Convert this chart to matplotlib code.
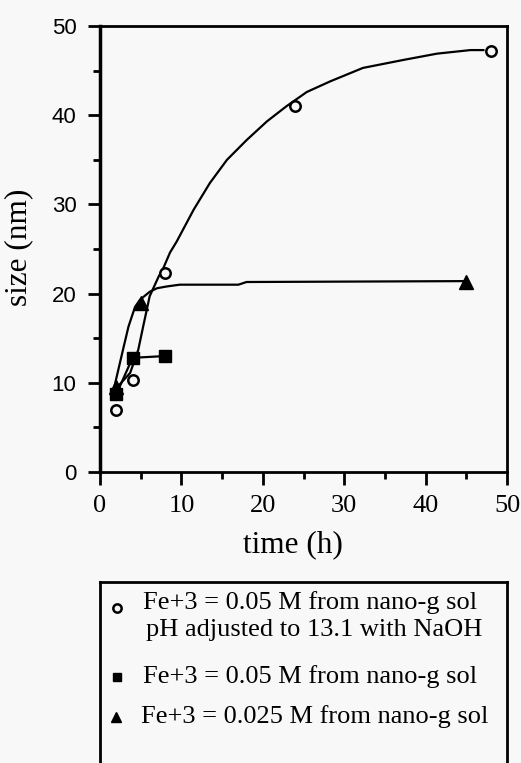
import numpy as np
import matplotlib.pyplot as plt
from matplotlib.ticker import MultipleLocator

# measured points
t_ph = [2, 4, 8, 24, 48]
size_ph = [7.0, 10.3, 22.3, 41.0, 47.2]

t_05 = [2, 4, 8]
size_05 = [8.7, 12.8, 13.0]

t_025 = [2, 5, 45]
size_025 = [9.5, 18.9, 21.3]

# hand-drawn guide curves
curve_ph_t = [1.8, 3.7, 4.7, 5.3, 6.1, 7.2, 7.8, 8.6, 9.4, 11.5, 13.5, 15.6, 18.0, 20.5,
              22.9, 25.4, 28.3, 32.3, 37.3, 41.4, 45.5, 47.1]
curve_ph_s = [9.2, 11.1, 13.7, 16.3, 19.7, 21.9, 22.9, 24.6, 25.8, 29.4, 32.4, 35.0, 37.2,
              39.3, 41.0, 42.6, 43.8, 45.3, 46.2, 46.9, 47.3, 47.3]
curve_025_t = [1.8, 2.9, 3.5, 4.3, 4.9, 6.1, 7.0, 8.2, 9.8, 17.0, 18.0, 45.0]
curve_025_s = [9.7, 14.0, 16.3, 18.5, 19.3, 20.2, 20.6, 20.8, 21.0, 21.0, 21.3, 21.4]

legend_labels = ["Fe+3 = 0.05 M from nano-g sol\npH adjusted to 13.1 with NaOH",
                 "Fe+3 = 0.05 M from nano-g sol",
                 "Fe+3 = 0.025 M from nano-g sol"]

serif = "Liberation Serif"
bg = "#f8f8f8"

W, H = 521, 763
fig = plt.figure(figsize=(W / 100, H / 100), dpi=100, facecolor=bg)
ax = fig.add_axes([100 / W, 1 - 472 / H, 407 / W, 446 / H], facecolor=bg)

ax.plot(curve_ph_t, curve_ph_s, color="black", lw=1.6)
ax.plot(curve_025_t, curve_025_s, color="black", lw=1.6)
ax.plot(t_05, size_05, color="black", lw=1.6, marker="s", ms=8.5)
ax.plot(t_025, size_025, linestyle="none", color="black", marker="^", ms=9.5)
ax.plot(t_ph, size_ph, linestyle="none", marker="o", ms=7.5, mfc=bg, mec="black", mew=1.8)

ax.set_xlim(0, 50)
ax.set_ylim(0, 50)
ax.xaxis.set_major_locator(MultipleLocator(10))
ax.xaxis.set_minor_locator(MultipleLocator(5))
ax.yaxis.set_major_locator(MultipleLocator(10))
ax.yaxis.set_minor_locator(MultipleLocator(5))
ax.tick_params(which="major", direction="out", length=9, width=2)
ax.tick_params(which="minor", direction="out", length=5, width=2)
ax.tick_params(axis="x", pad=7.5)
ax.tick_params(axis="y", pad=8)
for lab in ax.get_xticklabels():
    lab.set_fontfamily(serif)
    lab.set_fontsize(19)
for lab in ax.get_yticklabels():
    lab.set_fontfamily("Liberation Sans")
    lab.set_fontsize(16)
for s in ax.spines.values():
    s.set_linewidth(2)
ax.spines["left"].set_linewidth(2.5)

ax.set_xlabel("time (h)", fontfamily=serif, fontsize=22.5)
ax.set_ylabel("size (nm)", fontfamily=serif, fontsize=22.5)
ax.xaxis.set_label_coords(0.474, -0.130)
ax.yaxis.set_label_coords(-0.165, 0.504)

# legend box, open at the bottom edge of the figure
lax = fig.add_axes([100 / W, -0.05, 407 / W, (H - 582) / H + 0.05], facecolor=bg)
lax.set_xlim(100, 507)
lax.set_ylim(H + 0.05 * H, 582)
lax.set_xticks([])
lax.set_yticks([])
lax.spines["bottom"].set_visible(False)
for s in ["left", "top", "right"]:
    lax.spines[s].set_linewidth(2)

lax.plot([117], [608], marker="o", ms=6, mfc=bg, mec="black", mew=1.8)
lax.plot([117], [677], marker="s", ms=6, color="black")
lax.plot([116], [717], marker="^", ms=7, color="black")
line1, line2 = legend_labels[0].split("\n")
lax.text(143, 603, line1, fontfamily=serif, fontsize=19, va="center")
lax.text(146, 630, line2, fontfamily=serif, fontsize=19, va="center")
lax.text(143, 677, legend_labels[1], fontfamily=serif, fontsize=19, va="center")
lax.text(141, 717, legend_labels[2], fontfamily=serif, fontsize=19, va="center")

fig.savefig("out.png", dpi=100, facecolor=bg)
